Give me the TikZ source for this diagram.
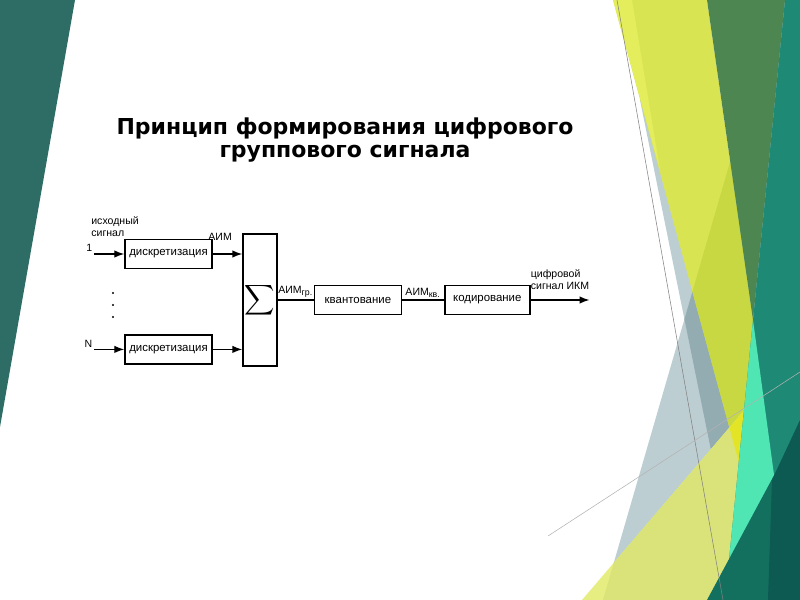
\documentclass[tikz,border=0pt]{standalone}
\usepackage{amsmath}
\usepackage{fontspec}
\usepackage{xcolor}
\setmainfont{Liberation Sans}
\newfontfamily\titlefont{DejaVu Sans}
\usetikzlibrary{arrows.meta,positioning}
\definecolor{facetdark}{HTML}{2E6C66}
\definecolor{facetgray}{HTML}{BDCED2}
\definecolor{facetgraydk}{HTML}{93ACB1}
\definecolor{facetyellow}{HTML}{D9E452}
\definecolor{facetyellowlt}{HTML}{E4ED5C}
\definecolor{facetolive}{HTML}{C7D842}
\definecolor{facetpale}{HTML}{E6EE82}
\definecolor{facetpalegray}{HTML}{D9E37A}
\definecolor{facetbright}{HTML}{E2E425}
\definecolor{facetgreen}{HTML}{4D8651}
\definecolor{facetteal}{HTML}{1E8A76}
\definecolor{facetmint}{HTML}{4FE6B3}
\definecolor{facetdeep}{HTML}{13705F}
\definecolor{facetdeeper}{HTML}{0D5A52}
\tikzset{
  sampbox/.style = {
    rectangle,
    draw,
    line width=0.8pt,
    align=center,
    inner sep=1pt,
    minimum width=17.4mm,
    minimum height=5.8mm,
    font=\fontsize{6.5}{7.5}\selectfont
  },
  sumbox/.style = {
    rectangle,
    draw,
    line width=0.8pt,
    inner sep=0pt,
    minimum width=6.8mm,
    minimum height=26.4mm,
    font=\fontsize{12}{14}\selectfont
  },
  siglabel/.style = {
    inner sep=1pt,
    font=\fontsize{6}{7}\selectfont
  },
  sigline/.style = {
    line width=0.8pt
  },
  sigarrow/.style = {
    -{Latex[length=2mm,width=1.5mm]},
    line width=0.8pt
  },
  thinline/.style = {
    line width=0.3pt
  }
}

\begin{document}
\begin{tikzpicture}[x=0.2mm, y=-0.2mm]
    \useasboundingbox (0,0) rectangle (800,600);
    \fill[white] (0,0) rectangle (800,600);
    \fill[facetdark] (0,0) -- (75,0) -- (0,427) -- cycle;
    \fill[facetgray] (777,0) -- (800,0) -- (800,600) -- (603,600) -- cycle;
    \fill[facetgray] (640,100) -- (715,470) -- (745,470) -- (700,100) -- cycle;
    \begin{scope}
      \clip (777,0) -- (800,0) -- (800,600) -- (603,600) -- cycle;
      \fill[facetgraydk] (640,100) -- (715,470) -- (745,470) -- (700,100) -- cycle;
    \end{scope}
    \fill[facetyellow] (613,0) -- (707,0) -- (753,320) -- (741,470) -- cycle;
    \fill[facetyellowlt] (613,0) -- (632,0) -- (660,170) -- cycle;
    \begin{scope}
      \clip (613,0) -- (707,0) -- (753,320) -- (741,470) -- cycle;
      \fill[facetolive] (777,0) -- (800,0) -- (800,600) -- (603,600) -- cycle;
    \end{scope}
    \fill[facetpale] (582,600) -- (800,345) -- (800,600) -- cycle;
    \begin{scope}
      \clip (777,0) -- (800,0) -- (800,600) -- (603,600) -- cycle;
      \fill[facetpalegray] (582,600) -- (800,345) -- (800,600) -- cycle;
    \end{scope}
    \begin{scope}
      \clip (613,0) -- (707,0) -- (753,320) -- (741,470) -- cycle;
      \fill[facetbright] (582,600) -- (800,345) -- (800,600) -- cycle;
    \end{scope}
    \fill[facetgreen] (707,0) -- (785,0) -- (753,320) -- cycle;
    \fill[facetteal] (785,0) -- (800,0) -- (800,600) -- (725,600) -- cycle;
    \fill[facetmint] (753,320) -- (725,600) -- (791,600) -- cycle;
    \fill[facetdeep] (707,600) -- (800,427) -- (800,600) -- cycle;
    \fill[facetdeeper] (772,480) -- (800,420) -- (800,600) -- (768,600) -- cycle;
    \draw[thinline, gray] (617,0) -- (723,600);
    \draw[thinline, gray!60] (548,536) -- (800,372);

    \node[align=center, font=\titlefont\bfseries\fontsize{12.5}{13.2}\selectfont] (title) at (345,140) {Принцип формирования цифрового\\группового сигнала};

    \node[sampbox] (samp1) at (168.5,254) {дискретизация};
    \node[sampbox, below=13mm of samp1] (sampN) {дискретизация};
    \node[sumbox] (sum) at (260,300) {$\displaystyle\sum$};
    \node[sampbox, right=7.2mm of sum] (quant) {квантование};
    \node[sampbox, right=8.4mm of quant, minimum width=17mm] (code) {кодирование};
    \coordinate[left=6mm of samp1] (in1);
    \coordinate[left=6mm of sampN] (inN);
    \coordinate[right=11.8mm of code] (out);
    \node[siglabel, anchor=south east] (num1) at (in1) {1};
    \node[siglabel, anchor=south east] (numN) at (inN) {N};
    \node[siglabel, anchor=south west, align=left, inner sep=0pt] (src) at (91,237) {исходный\\сигнал};
    \foreach \dy in {293,305,317}
      \fill (113,\dy) circle (0.7pt);
    \draw[sigarrow] (in1) -- (samp1);
    \draw[sigarrow] (inN) -- (sampN);
    \draw[sigarrow] (samp1) -- (samp1 -| sum.west) node[siglabel, pos=0.25, above=2.2mm] {АИМ};
    \draw[sigarrow] (sampN) -- (sampN -| sum.west);
    \draw[sigline] (sum) -- (quant) node[siglabel, midway, above] {АИМ\textsubscript{гр.}};
    \draw[sigline] (quant) -- (code) node[siglabel, midway, above] {АИМ\textsubscript{кв.}};
    \draw[sigarrow] (code) -- (out) node[siglabel, midway, above=1.5mm, align=left] {цифровой\\сигнал ИКМ};
  \end{tikzpicture}
\end{document}
